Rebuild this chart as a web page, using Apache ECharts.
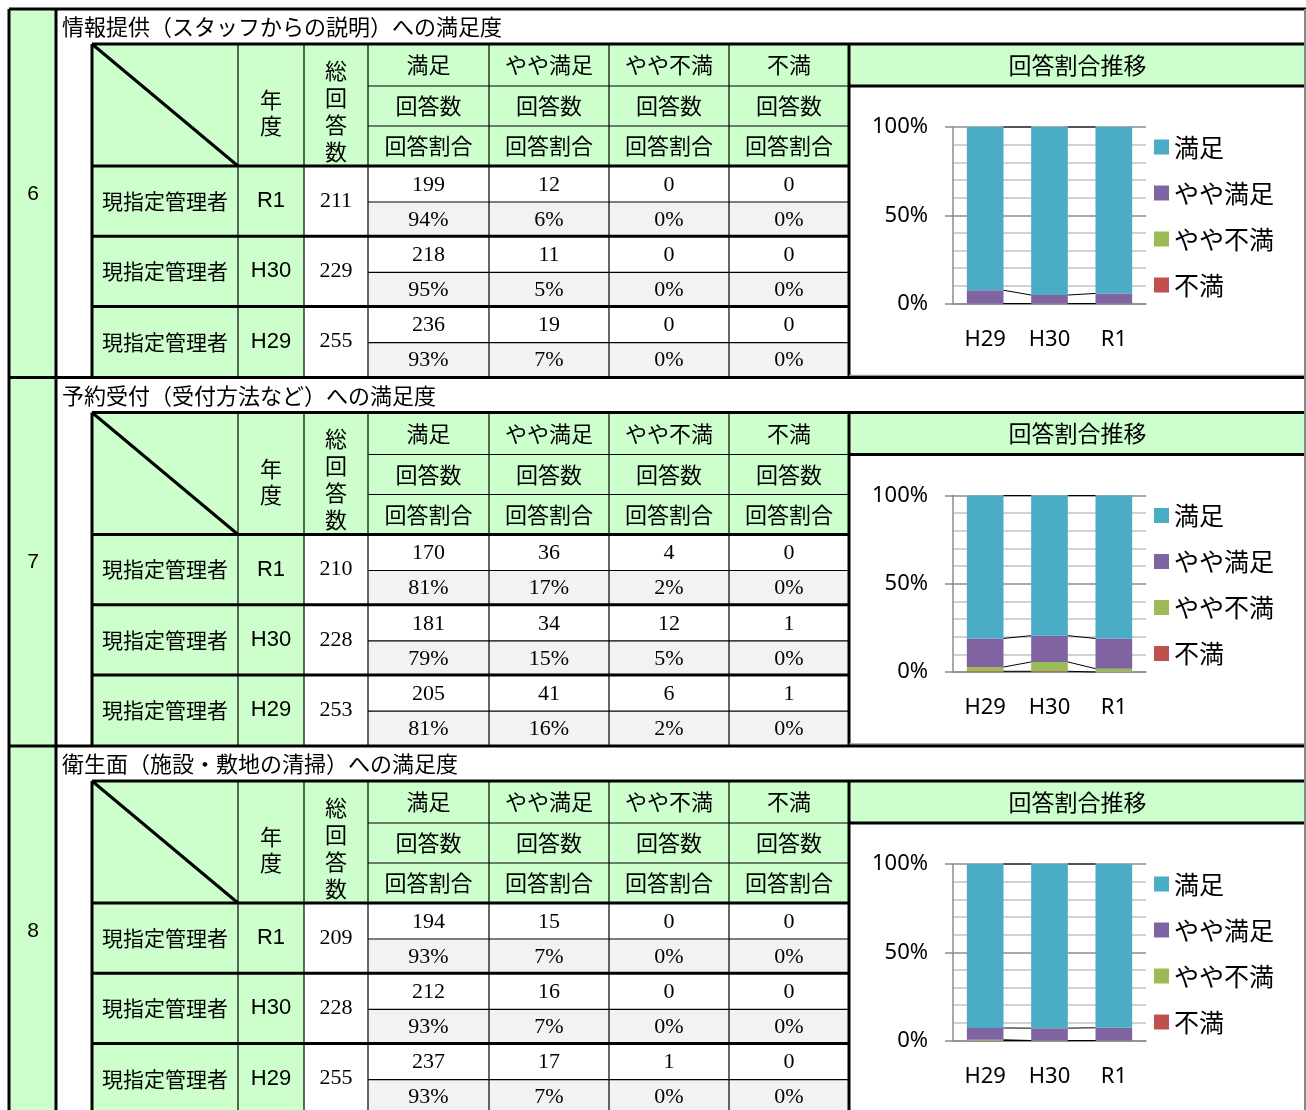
<!DOCTYPE html>
<html><head><meta charset="utf-8">
<script src="https://cdn.jsdelivr.net/npm/echarts@6/dist/echarts.min.js"></script>
<style>html,body{margin:0;padding:0;background:#fff}#main{width:1306px;height:1110px}</style>
</head><body><div id="main"></div>
<script>
// ---------- data ----------
const categories = ['H29', 'H30', 'R1'];
const legendNames = ['満足', 'やや満足', 'やや不満', '不満'];
const seriesColors = ['#4BACC6', '#8064A2', '#9BBB59', '#C0504D'];
const subHeaderCount = '回答数';
const subHeaderRatio = '回答割合';
const yearHeader = '年\n度';
const totalHeader = '総\n回\n答\n数';
const chartHeader = '回答割合推移';
const rowLabel = '現指定管理者';
const rowYears = ['R1', 'H30', 'H29'];
const sectionNos = ['6', '7', '8'];
const sectionTitles = [
  '情報提供（スタッフからの説明）への満足度',
  '予約受付（受付方法など）への満足度',
  '衛生面（施設・敷地の清掃）への満足度'
];

// table rows in order R1, H30, H29 ; columns 満足, やや満足, やや不満, 不満
const totals6 = [211, 229, 255];
const counts6 = [[199, 12, 0, 0], [218, 11, 0, 0], [236, 19, 0, 0]];
const pcts6 = [[94, 6, 0, 0], [95, 5, 0, 0], [93, 7, 0, 0]];
const totals7 = [210, 228, 253];
const counts7 = [[170, 36, 4, 0], [181, 34, 12, 1], [205, 41, 6, 1]];
const pcts7 = [[81, 17, 2, 0], [79, 15, 5, 0], [81, 16, 2, 0]];
const totals8 = [209, 228, 255];
const counts8 = [[194, 15, 0, 0], [212, 16, 0, 0], [237, 17, 1, 0]];
const pcts8 = [[93, 7, 0, 0], [93, 7, 0, 0], [93, 7, 0, 0]];

// chart shares (%) per series [満足, やや満足, やや不満, 不満], each over H29, H30, R1
const shares6 = [[92.5, 95.2, 94.3], [7.5, 4.8, 5.7], [0, 0, 0], [0, 0, 0]];
const shares7 = [[81.0, 79.4, 81.0], [16.2, 14.9, 17.1], [2.4, 5.3, 1.9], [0.4, 0.4, 0]];
const shares8 = [[92.9, 93.0, 92.8], [6.7, 7.0, 7.2], [0.4, 0, 0], [0, 0, 0]];

const yTickLabels = ['0%', '50%', '100%'];

// ---------- build ----------
const sections = [
  { no: sectionNos[0], title: sectionTitles[0], totals: totals6, counts: counts6, pcts: pcts6, shares: shares6 },
  { no: sectionNos[1], title: sectionTitles[1], totals: totals7, counts: counts7, pcts: pcts7, shares: shares7 },
  { no: sectionNos[2], title: sectionTitles[2], totals: totals8, counts: counts8, pcts: pcts8, shares: shares8 }
];

const GREEN = '#CCFFCC', GRAY = '#F2F2F2';
const JP = '"Noto Sans CJK JP", "Noto Sans", sans-serif';
const SERIF = '"Liberation Serif", "DejaVu Serif", serif';
const SANS = '"Liberation Sans", Arial, sans-serif';
const colX = [92, 238, 304, 368, 489, 609, 729, 849, 1306];
const secTop = [9, 377.5, 746];
const ROWH = 70.3;

const bg = [], lines = [], texts = [];
function rect(x, y, w, h, fill) { bg.push({ type: 'rect', silent: true, z: 0, shape: { x, y, width: w, height: h }, style: { fill } }); }
function line(x1, y1, x2, y2, w, c) { lines.push({ type: 'line', silent: true, z: 1, shape: { x1, y1, x2, y2 }, style: { stroke: c || '#000', lineWidth: w } }); }
function text(t, x, y, font, align, lh) {
  texts.push({ type: 'text', silent: true, z: 2, x, y,
    style: { text: t, font, fill: '#000', align: align || 'center', verticalAlign: 'middle',
      textAlign: align || 'center', textVerticalAlign: 'middle', lineHeight: lh || undefined } });
}

// number column background
rect(9, 9, 47, 1110 - 9, GREEN);

sections.forEach((s, si) => {
  const S = secTop[si];
  const tTop = S + 35, hEnd = S + 157, sEnd = S + 368.5;
  // backgrounds
  rect(colX[0], tTop, colX[7] - colX[0], hEnd - tTop, GREEN);
  rect(colX[7], tTop, colX[8] - colX[7], 42, GREEN);
  rect(colX[0], hEnd, colX[2] - colX[0], sEnd - hEnd, GREEN);
  for (let r = 0; r < 3; r++) {
    const rt = hEnd + r * ROWH;
    rect(colX[3], rt + 36, colX[7] - colX[3], ROWH - 36, GRAY);
  }
  // lines
  line(9, S, 1306, S, 3);
  line(colX[0], tTop, 1306, tTop, 3);
  line(colX[0], tTop, colX[0], sEnd, 3);
  line(colX[0], hEnd, colX[7], hEnd, 3);
  line(colX[7], S + 77, 1306, S + 77, 3);
  line(colX[7], tTop, colX[7], sEnd, 3);
  line(colX[7], sEnd - 2, 1306, sEnd - 2, 1.5, '#999');
  for (let c = 1; c <= 6; c++) line(colX[c], tTop, colX[c], sEnd, 1.2);
  line(colX[3], S + 77, colX[7], S + 77, 1.2);
  line(colX[3], S + 117, colX[7], S + 117, 1.2);
  line(colX[0], tTop, colX[1], hEnd, 3);
  for (let r = 0; r < 3; r++) {
    const rt = hEnd + r * ROWH;
    if (r > 0) line(colX[0], rt, colX[7], rt, 3);
    line(colX[3], rt + 36, colX[7], rt + 36, 1.2);
  }
  // texts
  text(s.no, 33, S + 185, '21px ' + SANS);
  text(s.title, 62, S + 18, '22px ' + JP, 'left');
  text(yearHeader, (colX[1] + colX[2]) / 2, S + 104, '22px ' + JP, 'center', 26);
  text(totalHeader, (colX[2] + colX[3]) / 2, S + 102, '22px ' + JP, 'center', 27);
  for (let c = 0; c < 4; c++) {
    const cx = (colX[3 + c] + colX[4 + c]) / 2;
    text(legendNames[c], cx, S + 56, '22px ' + JP);
    text(subHeaderCount, cx, S + 97, '22px ' + JP);
    text(subHeaderRatio, cx, S + 137, '22px ' + JP);
  }
  text(chartHeader, (colX[7] + colX[8]) / 2, S + 56, '23px ' + JP);
  for (let r = 0; r < 3; r++) {
    const rt = hEnd + r * ROWH;
    text(rowLabel, (colX[0] + colX[1]) / 2, rt + 35, '21px ' + JP);
    text(rowYears[r], (colX[1] + colX[2]) / 2, rt + 35, '22px ' + SANS);
    text(String(s.totals[r]), (colX[2] + colX[3]) / 2, rt + 35, '22px ' + SERIF);
    for (let c = 0; c < 4; c++) {
      const cx = (colX[3 + c] + colX[4 + c]) / 2;
      text(String(s.counts[r][c]), cx, rt + 19, '22px ' + SERIF);
      text(s.pcts[r][c] + '%', cx, rt + 54, '22px ' + SERIF);
    }
  }
});
// outer left border and number column border
line(9, 9, 9, 1110, 3);
line(56, 9, 56, 1110, 3);
line(1305, 9, 1305, 1110, 2, '#888');

// ---------- charts ----------
const grids = [], xAxes = [], yAxes = [], series = [], legends = [];
const BARW = 0.57;
sections.forEach((s, si) => {
  const S = secTop[si];
  grids.push({ left: 953, top: S + 118, width: 193, height: 176.5 });
  xAxes.push({
    type: 'category', gridIndex: si, data: categories,
    axisLine: { show: true, lineStyle: { color: '#8C8C8C', width: 1.5 } },
    axisTick: { show: false },
    axisLabel: { fontSize: 22, fontFamily: 'Noto Sans', color: '#000', margin: 25 }
  });
  yAxes.push({
    type: 'value', gridIndex: si, min: 0, max: 100, interval: 50,
    axisLine: { show: true, lineStyle: { color: '#8C8C8C', width: 1.5 } },
    axisTick: { show: true, length: 8, lineStyle: { color: '#8C8C8C', width: 1.5 } },
    axisLabel: { fontSize: 22, fontFamily: 'Noto Sans', color: '#000', margin: 25,
      formatter: v => yTickLabels[Math.round(v / 50)] },
    splitLine: { show: true, lineStyle: { color: '#8C8C8C', width: 1.5 } },
    minorTick: { show: false, splitNumber: 5 },
    minorSplitLine: { show: true, lineStyle: { color: '#C4C4C4', width: 1.5 } }
  });
  // stack from bottom: 不満, やや不満, やや満足, 満足
  for (let k = 3; k >= 0; k--) {
    series.push({
      type: 'bar', name: legendNames[k], xAxisIndex: si, yAxisIndex: si,
      stack: 'st' + si, barWidth: (BARW * 100) + '%', data: s.shares[k],
      itemStyle: { color: seriesColors[k] }, emphasis: { disabled: true }, silent: true
    });
  }
  // Excel-style series lines between adjacent bars
  const cum = categories.map((_, i) => {
    const a = s.shares[3][i], b = a + s.shares[2][i], c = b + s.shares[1][i], d = c + s.shares[0][i];
    return [a, b, c, d];
  });
  const slData = [];
  for (let i = 0; i < categories.length - 1; i++) slData.push([i, ...cum[i], ...cum[i + 1]]);
  series.push({
    type: 'custom', name: 'series-lines-' + si, xAxisIndex: si, yAxisIndex: si, silent: true, z: 5,
    encode: { x: 0, y: 1 }, data: slData,
    renderItem: function (params, api) {
      const i = api.value(0);
      const bw = api.size([1, 0])[0] * BARW;
      const children = [];
      for (let k = 0; k < 4; k++) {
        const a = api.coord([i, api.value(1 + k)]);
        const b = api.coord([i + 1, api.value(5 + k)]);
        children.push({ type: 'line', shape: { x1: a[0] + bw / 2, y1: a[1], x2: b[0] - bw / 2, y2: b[1] },
          style: { stroke: '#000', lineWidth: 1 } });
      }
      return { type: 'group', children };
    }
  });
  legends.push({
    orient: 'vertical', left: 1149, top: S + 120, itemWidth: 15, itemHeight: 15, itemGap: 20,
    icon: 'rect', data: legendNames, selectedMode: false,
    textStyle: { fontSize: 25, fontFamily: 'Noto Sans CJK JP', color: '#000', lineHeight: 26 }
  });
});

const chart = echarts.init(document.getElementById('main'), null, { renderer: 'canvas' });
chart.setOption({
  animation: false,
  backgroundColor: '#fff',
  grid: grids, xAxis: xAxes, yAxis: yAxes, series, legend: legends,
  graphic: { elements: [...bg, ...lines, ...texts] }
});
</script>
</body></html>
